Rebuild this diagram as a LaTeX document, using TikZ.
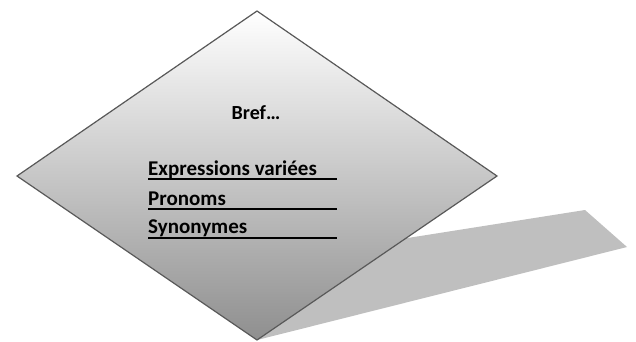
\documentclass[tikz,border=0pt]{standalone}
\usepackage{fontspec}
\setmainfont{Carlito}
\usetikzlibrary{positioning,calc}

\begin{document}
\begin{tikzpicture}[x=1pt,y=-1pt]
\tikzset{losange/.style={draw=black!65,line width=1.2pt,top color=white,bottom color=black!44},
  ombre/.style={fill=black!25,draw=none},
  mot/.style={anchor=base west,inner sep=0pt,font=\fontsize{21}{24}\selectfont\bfseries},
  trait/.style={line width=1.3pt}};
   \useasboundingbox (0,0) rectangle (636,341);
   \coordinate (T) at (257,11);
   \coordinate (L) at (17,176);
   \coordinate (R) at (497,176);
   \coordinate (B) at (257,340);

   % ombre portee
   \fill[ombre] (B) -- (627,247) -- (585,210) -- (300,255) -- cycle;
   \shade[losange] (T) -- (R) -- (B) -- (L) -- cycle;

   \node[mot,anchor=base,font=\fontsize{20}{24}\selectfont\bfseries] (bref) at (256,119) {Bref\dots};

   \node[mot] (expr) at (148,175.5) {Expressions variées};
   \node[mot] (pron) at (148,205) {Pronoms};
   \node[mot] (syn) at (148,233) {Synonymes};

   \draw[trait] (expr.base west) ++(0,3.5) coordinate (e1) -- ++(189,0) coordinate (e2);
   \draw[trait] (pron.base west) ++(0,4) coordinate (p1) -- ++(189,0) coordinate (p2);
   \draw[trait] (syn.base west) ++(0,5) coordinate (s1) -- ++(189,0) coordinate (s2);
\end{tikzpicture}
\end{document}
